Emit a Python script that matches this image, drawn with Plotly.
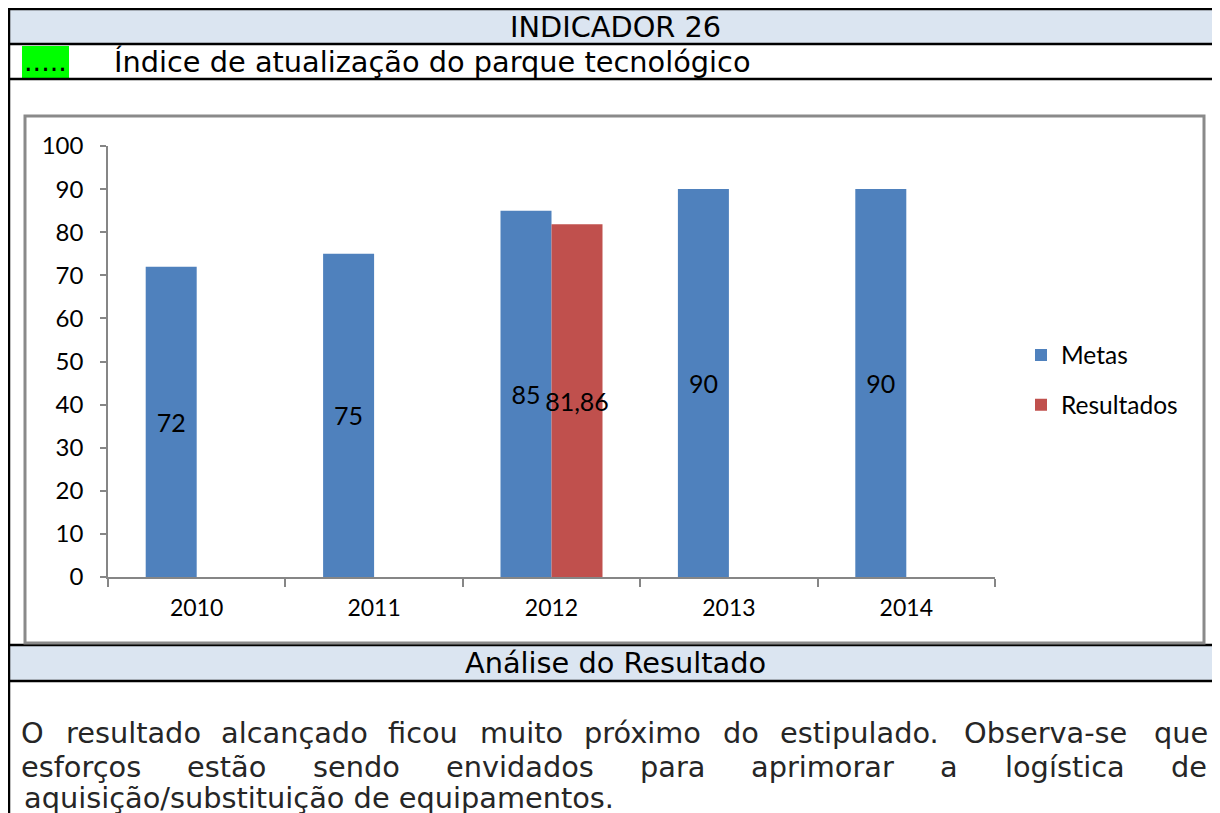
import plotly.graph_objects as go

# ---------------- data ----------------
years = ["2010", "2011", "2012", "2013", "2014"]
metas = [72, 75, 85, 90, 90]
metas_labels = ["72", "75", "85", "90", "90"]
result_years = ["2012"]
resultados = [81.86]
result_labels = ["81,86"]

header_title = "INDICADOR 26"
indicator_name = "Índice de atualização do parque tecnológico"
analysis_title = "Análise do Resultado"
line1_words = ["O", "resultado", "alcançado", "ficou", "muito", "próximo", "do",
               "estipulado.", "Observa-se", "que"]
line2_words = ["esforços", "estão", "sendo", "envidados", "para", "aprimorar", "a",
               "logística", "de"]
line3_text = "aquisição/substituição de equipamentos."

# ---------------- layout geometry (pixels) ----------------
W, H = 1220, 813
OX, OY = -8, -8   # compensate page offset
def px(x):
    return (x + OX) / W
def py(y):
    return 1 - (y + OY) / H

BLUE = "#4f81bd"
RED = "#c0504d"
AXIS = "#868686"
HEAD_BG = "#dbe5f1"
CHART_FONT = "Lato"
DOC_FONT = "DejaVu Sans"
DOC_SIZE = 28.8

fig = go.Figure()
fig.add_trace(go.Bar(
    x=years, y=metas, name="Metas", marker=dict(color=BLUE, line=dict(width=0)),
    text=metas_labels, textposition="inside", insidetextanchor="middle",
    textangle=0, constraintext="none",
    textfont=dict(family=CHART_FONT, size=25, color="black"),
    legendgroup="a",
))
fig.add_trace(go.Bar(
    x=result_years, y=resultados, name="Resultados",
    marker=dict(color=RED, line=dict(width=0)),
    text=result_labels, textposition="inside", insidetextanchor="middle",
    textangle=0, constraintext="none",
    textfont=dict(family=CHART_FONT, size=25, color="black"),
    legendgroup="b",
))

shapes = []
# header bands
shapes.append(dict(type="rect", xref="paper", yref="paper", x0=px(9), x1=px(1240),
                   y0=py(44), y1=py(9), fillcolor=HEAD_BG, line=dict(width=0), layer="below"))
shapes.append(dict(type="rect", xref="paper", yref="paper", x0=px(9), x1=px(1240),
                   y0=py(681), y1=py(645), fillcolor=HEAD_BG, line=dict(width=0), layer="below"))
# green marker box
shapes.append(dict(type="rect", xref="paper", yref="paper", x0=px(22), x1=px(69),
                   y0=py(78), y1=py(46), fillcolor="#00ff00", line=dict(width=0), layer="below"))
# table lines
for yy in [9, 44, 79, 645, 681]:
    shapes.append(dict(type="line", xref="paper", yref="paper", x0=px(8), x1=px(1240),
                       y0=py(yy), y1=py(yy), line=dict(color="black", width=2.5)))
shapes.append(dict(type="line", xref="paper", yref="paper", x0=px(9), x1=px(9),
                   y0=py(8), y1=py(830), line=dict(color="black", width=2.5)))
# chart box
shapes.append(dict(type="rect", xref="paper", yref="paper", x0=px(25), x1=px(1204),
                   y0=py(643), y1=py(116), line=dict(color="#8a8a8a", width=3),
                   fillcolor="rgba(0,0,0,0)"))

annotations = []
doc_font = dict(family=DOC_FONT, size=DOC_SIZE, color="black")
annotations.append(dict(text=header_title, xref="paper", yref="paper", x=px(615), y=py(27),
                        xanchor="center", yanchor="middle", showarrow=False, font=doc_font))
annotations.append(dict(text=".....", xref="paper", yref="paper", x=px(22), y=py(62),
                        xanchor="left", yanchor="middle", showarrow=False,
                        font=dict(family=DOC_FONT, size=27, color="black")))
annotations.append(dict(text=indicator_name, xref="paper", yref="paper", x=px(112), y=py(62),
                        xanchor="left", yanchor="middle", showarrow=False, font=doc_font))
annotations.append(dict(text=analysis_title, xref="paper", yref="paper", x=px(615), y=py(663),
                        xanchor="center", yanchor="middle", showarrow=False, font=doc_font))

line1_x = [33, 133.7, 294.4, 423.2, 521.2, 642.7, 741.3, 859.7, 1045.8, 1180.9]
line2_x = [80.7, 226.9, 356.7, 519.6, 672.1, 822, 948.8, 1064.5, 1189.2]
body_font = dict(family=DOC_FONT, size=DOC_SIZE, color="#262626")
for wrd, xx in zip(line1_words, line1_x):
    annotations.append(dict(text=wrd, xref="paper", yref="paper", x=px(xx), y=py(733),
                            xanchor="center", yanchor="middle", showarrow=False, font=body_font))
for wrd, xx in zip(line2_words, line2_x):
    annotations.append(dict(text=wrd, xref="paper", yref="paper", x=px(xx), y=py(767),
                            xanchor="center", yanchor="middle", showarrow=False, font=body_font))
annotations.append(dict(text=line3_text, xref="paper", yref="paper", x=px(22), y=py(798),
                        xanchor="left", yanchor="middle", showarrow=False, font=body_font))

fig.update_layout(
    template="none",
    width=W, height=H, autosize=False,
    margin=dict(l=0, r=0, t=0, b=0, pad=0, autoexpand=False),
    paper_bgcolor="white", plot_bgcolor="white",
    barmode="group", bargap=0.425, bargroupgap=0,
    showlegend=True,
    legend=dict(x=px(1021), y=py(380), xanchor="left", yanchor="middle",
                font=dict(family=CHART_FONT, size=24.5, color="black"),
                tracegroupgap=15, bgcolor="rgba(0,0,0,0)", borderwidth=0),
    xaxis=dict(domain=[px(108), px(995)], type="category", automargin=False,
               showline=True, linecolor=AXIS, linewidth=1.5,
               ticks="outside", ticklen=8, tickcolor=AXIS, tickwidth=1.5,
               tickson="boundaries", showgrid=False, zeroline=False,
               ticklabelstandoff=10,
               tickfont=dict(family=CHART_FONT, size=23, color="black")),
    yaxis=dict(domain=[py(577), py(146)], range=[0, 100], dtick=10, automargin=False,
               showline=True, linecolor=AXIS, linewidth=1.5,
               ticks="outside", ticklen=6, tickcolor=AXIS, tickwidth=1.5,
               showgrid=False, zeroline=False, ticklabelstandoff=12,
               tickfont=dict(family=CHART_FONT, size=24, color="black")),
    shapes=shapes, annotations=annotations,
)

fig.write_html("out.html")
